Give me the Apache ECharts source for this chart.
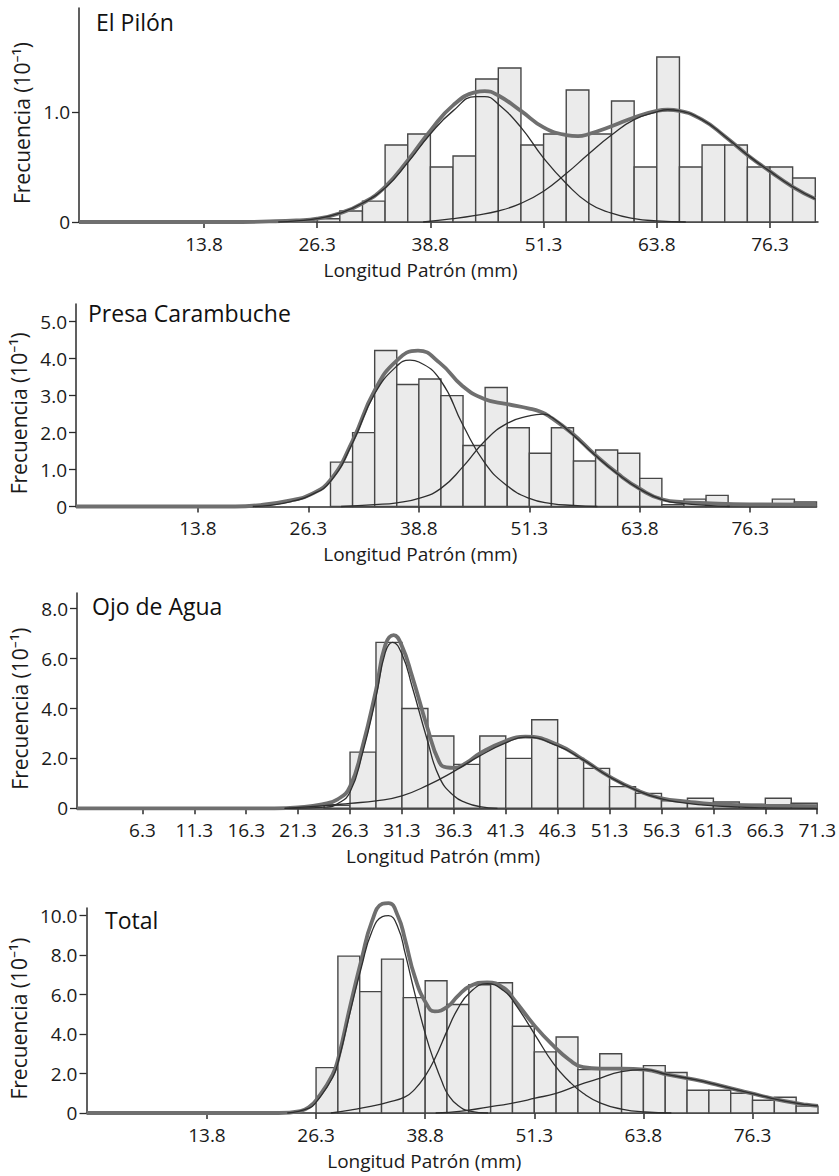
<!DOCTYPE html>
<html>
<head>
<meta charset="utf-8">
<title>Longitud patrón - frecuencias</title>
<script src="https://cdn.jsdelivr.net/npm/echarts@6.0.0/dist/echarts.min.js"></script>
<style>
  html, body { margin: 0; padding: 0; background: #fff; }
  #chart { width: 839px; height: 1176px; }
</style>
</head>
<body>
<div id="chart"></div>
<script>
(function() {
  'use strict';

  // ========== Data ==========
  var BIN = 2.5;
  var ticksMain = [13.8, 26.3, 38.8, 51.3, 63.8, 76.3];
  var ticksOjo = [6.3, 11.3, 16.3, 21.3, 26.3, 31.3, 36.3, 41.3, 46.3, 51.3, 56.3, 61.3, 66.3, 71.3];

  // El Pilón
  var pilonBins = [26.3, 28.8, 31.3, 33.8, 36.3, 38.8, 41.3, 43.8, 46.3, 48.8, 51.3, 53.8, 56.3, 58.8, 61.3, 63.8, 66.3, 68.8, 71.3, 73.8, 76.3, 78.8];
  var pilonFreq = [0.03, 0.10, 0.19, 0.70, 0.80, 0.50, 0.60, 1.30, 1.40, 0.70, 0.80, 1.20, 0.80, 1.10, 0.50, 1.50, 0.50, 0.70, 0.70, 0.50, 0.50, 0.40];
  var pilonTotal = [[0, 0], [18, 0], [21, 0.005], [24, 0.015], [26.3, 0.03], [28.8, 0.08], [31.3, 0.17], [33.8, 0.32], [36.3, 0.56], [38.8, 0.83], [41.3, 1.06], [43.8, 1.18], [44.8, 1.19], [46.3, 1.15], [48.8, 1.01], [51.3, 0.86], [53.8, 0.79], [55.1, 0.78], [56.3, 0.80], [58.8, 0.87], [61.3, 0.95], [63.8, 1.01], [65.0, 1.02], [66.3, 1.01], [68.8, 0.93], [71.3, 0.78], [73.8, 0.61], [76.3, 0.46], [78.8, 0.32], [81.3, 0.21]];
  var pilonComp1 = [[22, 0], [24, 0.01], [26.3, 0.03], [28.8, 0.08], [31.3, 0.17], [33.8, 0.31], [36.3, 0.54], [38.8, 0.80], [41.3, 1.01], [43.8, 1.14], [44.8, 1.14], [46.3, 1.07], [48.8, 0.86], [51.3, 0.58], [53.8, 0.35], [56.3, 0.17], [58.8, 0.08], [61.3, 0.03], [63.8, 0.01], [67, 0]];
  var pilonComp2 = [[38, 0], [41.3, 0.03], [43.8, 0.06], [46.3, 0.10], [48.8, 0.17], [51.3, 0.28], [53.8, 0.44], [56.3, 0.62], [58.8, 0.79], [61.3, 0.93], [63.8, 1.00], [65.0, 1.02], [66.3, 1.01], [68.8, 0.93], [71.3, 0.78], [73.8, 0.61], [76.3, 0.46], [78.8, 0.32], [81.3, 0.21]];

  // Presa Carambuche
  var presaBins = [28.8, 31.3, 33.8, 36.3, 38.8, 41.3, 43.8, 46.3, 48.8, 51.3, 53.8, 56.3, 58.8, 61.3, 63.8, 66.3, 68.8, 71.3, 73.8, 76.3, 78.8, 81.3];
  var presaFreq = [1.20, 2.00, 4.22, 3.30, 3.45, 3.00, 1.65, 3.22, 2.13, 1.44, 2.13, 1.23, 1.53, 1.44, 0.76, 0.05, 0.20, 0.30, 0.03, 0.03, 0.20, 0.12];
  var presaTotal = [[0, 0], [18, 0], [20.9, 0.04], [24.6, 0.18], [26.5, 0.32], [28.8, 0.72], [31.3, 1.78], [33.8, 3.14], [36.3, 3.95], [38.7, 4.22], [41.2, 3.88], [43.7, 3.27], [46.2, 2.91], [48.8, 2.77], [51.3, 2.65], [52.5, 2.57], [53.5, 2.45], [56.2, 1.97], [58.6, 1.43], [61.3, 0.89], [63.8, 0.48], [66.4, 0.19], [68.8, 0.12], [71.4, 0.09], [76.3, 0.06], [83.8, 0.05]];
  var presaComp1 = [[20, 0], [22, 0.03], [24.6, 0.15], [26.5, 0.30], [28.8, 0.68], [31.3, 1.72], [33.8, 3.05], [36.3, 3.80], [37.8, 3.96], [38.8, 3.91], [41.3, 3.40], [43.8, 2.20], [46.3, 1.17], [48.8, 0.56], [51.3, 0.22], [53.8, 0.08], [56.3, 0.03], [59, 0]];
  var presaComp2 = [[30, 0], [33.8, 0.05], [36.3, 0.10], [38.8, 0.22], [41.3, 0.49], [43.8, 1.08], [46.3, 1.78], [48.8, 2.25], [51.3, 2.45], [52.8, 2.50], [53.8, 2.42], [56.2, 1.95], [58.6, 1.42], [61.3, 0.88], [63.8, 0.47], [66.4, 0.18], [68.8, 0.08], [71.4, 0.03], [74, 0]];

  // Ojo de Agua
  var ojoBins = [23.8, 26.3, 28.8, 31.3, 33.8, 36.3, 38.8, 41.3, 43.8, 46.3, 48.8, 51.3, 53.8, 56.3, 58.8, 61.3, 63.8, 66.3, 68.8];
  var ojoFreq = [0.12, 2.25, 6.65, 4.00, 2.90, 1.76, 2.90, 2.00, 3.55, 2.00, 1.60, 0.87, 0.60, 0.30, 0.40, 0.25, 0.15, 0.40, 0.20];
  var ojoTotal = [[0, 0], [19, 0], [21.3, 0.04], [23.6, 0.16], [25.1, 0.36], [26.3, 0.87], [27.5, 2.47], [28.8, 4.74], [29.7, 6.55], [30.5, 6.94], [31.3, 6.50], [32.3, 5.27], [33.7, 3.30], [34.9, 1.85], [35.6, 1.64], [36.3, 1.62], [37.5, 1.82], [38.8, 2.20], [41.3, 2.70], [43.2, 2.87], [46.3, 2.55], [48.8, 1.94], [51.3, 1.27], [53.9, 0.73], [56.3, 0.40], [58.8, 0.27], [61.3, 0.17], [63.9, 0.13], [66.3, 0.11], [71.3, 0.09]];
  var ojoComp1 = [[20, 0], [24, 0.05], [25.1, 0.18], [26.3, 0.65], [27.5, 2.20], [28.8, 4.45], [29.7, 6.25], [30.4, 6.65], [31.3, 6.18], [32.3, 4.85], [33.7, 2.80], [34.9, 1.25], [36.3, 0.50], [37.5, 0.22], [38.8, 0.07], [40.5, 0]];
  var ojoComp2 = [[20, 0], [23.6, 0.10], [26.3, 0.20], [28.8, 0.30], [31.3, 0.50], [33.8, 0.93], [36.3, 1.48], [38.8, 2.10], [41.3, 2.62], [43.2, 2.85], [46.3, 2.50], [48.8, 1.93], [51.3, 1.26], [53.9, 0.72], [56.3, 0.38], [58.8, 0.20], [61.3, 0.10], [63.9, 0.05], [66.3, 0.02], [71.3, 0]];

  // Total
  var sumBins = [26.3, 28.8, 31.3, 33.8, 36.3, 38.8, 41.3, 43.8, 46.3, 48.8, 51.3, 53.8, 56.3, 58.8, 61.3, 63.8, 66.3, 68.8, 71.3, 73.8, 76.3, 78.8, 81.3];
  var sumFreq = [2.30, 7.95, 6.15, 7.80, 5.85, 6.70, 5.50, 6.50, 6.60, 4.40, 3.10, 3.85, 2.20, 3.00, 2.20, 2.40, 2.05, 1.15, 1.15, 1.00, 0.65, 0.80, 0.35];
  var sumTotal = [[0, 0], [22, 0], [24.5, 0.10], [25.5, 0.30], [26.4, 0.70], [28.2, 1.95], [28.9, 2.87], [30.2, 5.40], [31.5, 7.77], [32.7, 9.71], [33.9, 10.60], [34.6, 10.64], [35.7, 9.96], [36.5, 8.78], [37.6, 6.92], [38.9, 5.57], [39.9, 5.15], [41.4, 5.40], [42.5, 5.91], [43.9, 6.42], [45.9, 6.62], [47.8, 6.34], [49.0, 5.74], [51.4, 4.39], [53.5, 3.40], [55.3, 2.70], [56.9, 2.32], [58.9, 2.25], [61.3, 2.25], [64.0, 2.20], [66.6, 1.94], [69.7, 1.69], [72.5, 1.40], [75.0, 1.12], [77.5, 0.85], [80.0, 0.60], [82.5, 0.42], [83.8, 0.36]];
  var sumComp1 = [[23, 0], [25.5, 0.25], [26.4, 0.60], [28.2, 1.80], [28.9, 2.70], [30.2, 5.10], [31.5, 7.40], [32.7, 9.20], [33.9, 9.95], [34.6, 10.00], [35.7, 9.38], [36.5, 8.10], [37.6, 6.08], [38.9, 3.88], [39.9, 2.53], [40.8, 1.50], [41.4, 0.95], [42.5, 0.40], [43.9, 0.10], [46, 0]];
  var sumComp2 = [[28, 0], [30.2, 0.15], [32.7, 0.35], [34.6, 0.55], [36.5, 0.82], [37.6, 1.20], [38.9, 1.95], [39.9, 2.75], [41.4, 4.25], [42.5, 5.25], [43.9, 6.10], [45.9, 6.55], [47.8, 6.20], [49.0, 5.60], [51.4, 3.95], [53.5, 2.50], [55.3, 1.60], [56.9, 1.00], [58.9, 0.50], [61.3, 0.20], [64, 0.05], [67, 0]];
  var sumComp3 = [[40, 0], [43, 0.10], [46, 0.30], [48.8, 0.50], [51.4, 0.75], [53.8, 1.00], [56.3, 1.40], [58.4, 1.70], [61.3, 2.10], [63.8, 2.20], [66.6, 1.94], [69.7, 1.69], [72.5, 1.40], [75.0, 1.12], [77.5, 0.85], [80.0, 0.60], [82.5, 0.42], [83.8, 0.36]];

  // ========== Helpers ==========
  var ink = '#1a1a1a';
  var axisColor = '#2b2b2b';
  var fontFamily = '"Open Sans", "Noto Sans", sans-serif';

  function binData(bins, freq) {
    return bins.map(function(s, i) { return [s, s + BIN, freq[i]]; });
  }

  function renderBar(params, api) {
    var p0 = api.coord([api.value(0), api.value(2)]);
    var p1 = api.coord([api.value(1), 0]);
    return {
      type: 'rect',
      shape: { x: p0[0], y: p0[1], width: p1[0] - p0[0], height: p1[1] - p0[1] },
      style: { fill: '#ebebeb', stroke: '#474747', lineWidth: 1.4 }
    };
  }

  function xAxisFor(i, max, ticks, shift) {
    return {
      type: 'value', gridIndex: i, min: 0, max: max,
      name: 'Longitud Patrón (mm)', nameLocation: 'middle', nameGap: 38,
      nameTextStyle: { fontSize: 19, color: ink, padding: [0, shift, 0, 0] },
      axisLine: { onZero: false, lineStyle: { color: axisColor, width: 1.5 } },
      axisTick: { customValues: ticks, length: 6, lineStyle: { color: axisColor, width: 1.5 } },
      axisLabel: { customValues: ticks, fontSize: 19, color: ink, margin: 12,
        formatter: function(v) { return v.toFixed(1); } },
      splitLine: { show: false }
    };
  }

  function yAxisFor(i, max, ticks) {
    return {
      type: 'value', gridIndex: i, min: 0, max: max,
      name: 'Frecuencia (10⁻¹)', nameLocation: 'middle', nameRotate: 90, nameGap: 46,
      nameTextStyle: { fontSize: 21, color: ink, padding: [0, 16, 0, 0] },
      axisLine: { show: true, lineStyle: { color: axisColor, width: 1.5 } },
      axisTick: { show: true, customValues: ticks, length: 7, lineStyle: { color: axisColor, width: 1.3 } },
      axisLabel: { customValues: ticks, fontSize: 19, color: ink, margin: 9,
        formatter: function(v) { return v === 0 ? '0' : v.toFixed(1); } },
      splitLine: { show: false }
    };
  }

  function barSeries(i, bins, freq) {
    return {
      type: 'custom', xAxisIndex: i, yAxisIndex: i, z: 1,
      renderItem: renderBar,
      encode: { x: [0, 1], y: 2 },
      data: binData(bins, freq)
    };
  }

  function curve(i, data, thick) {
    return {
      type: 'line', xAxisIndex: i, yAxisIndex: i, z: thick ? 3 : 4,
      data: data, smooth: 0.5, showSymbol: false, clip: false,
      lineStyle: thick ? { color: '#6f6f6f', width: 3.8 } : { color: '#2e2e2e', width: 1.3 }
    };
  }

  function titleFor(text, left, top) {
    return { text: text, left: left, top: top, padding: 0,
      textStyle: { fontSize: 23, fontWeight: 'normal', color: '#111', fontFamily: fontFamily } };
  }

  // ========== Chart ==========
  var chart = echarts.init(document.getElementById('chart'), null, { renderer: 'svg' });
  chart.setOption({
    animation: false,
    backgroundColor: '#fff',
    textStyle: { fontFamily: fontFamily },
    title: [
      titleFor('El Pilón', 96, 10),
      titleFor('Presa Carambuche', 88, 301),
      titleFor('Ojo de Agua', 92, 594),
      titleFor('Total', 105, 908)
    ],
    grid: [
      { left: 79, top: 8, width: 739, height: 214 },
      { left: 76, top: 304, width: 740.5, height: 202.5 },
      { left: 77, top: 593, width: 740.3, height: 215.3 },
      { left: 78, top: 908, width: 740, height: 205 }
    ],
    xAxis: [
      xAxisFor(0, 81.6, ticksMain, 56),
      xAxisFor(1, 83.8, ticksMain, 52),
      xAxisFor(2, 71.3, ticksOjo, 8),
      xAxisFor(3, 83.8, ticksMain, 56)
    ],
    yAxis: [
      yAxisFor(0, 1.945, [0, 1]),
      yAxisFor(1, 5.48, [0, 1, 2, 3, 4, 5]),
      yAxisFor(2, 8.63, [0, 2, 4, 6, 8]),
      yAxisFor(3, 10.39, [0, 2, 4, 6, 8, 10])
    ],
    series: [
      barSeries(0, pilonBins, pilonFreq),
      curve(0, pilonTotal, true),
      curve(0, pilonComp1, false),
      curve(0, pilonComp2, false),

      barSeries(1, presaBins, presaFreq),
      curve(1, presaTotal, true),
      curve(1, presaComp1, false),
      curve(1, presaComp2, false),

      barSeries(2, ojoBins, ojoFreq),
      curve(2, ojoTotal, true),
      curve(2, ojoComp1, false),
      curve(2, ojoComp2, false),

      barSeries(3, sumBins, sumFreq),
      curve(3, sumTotal, true),
      curve(3, sumComp1, false),
      curve(3, sumComp2, false),
      curve(3, sumComp3, false)
    ]
  });
  window.addEventListener('resize', function() { chart.resize(); });
})();
</script>
</body>
</html>
